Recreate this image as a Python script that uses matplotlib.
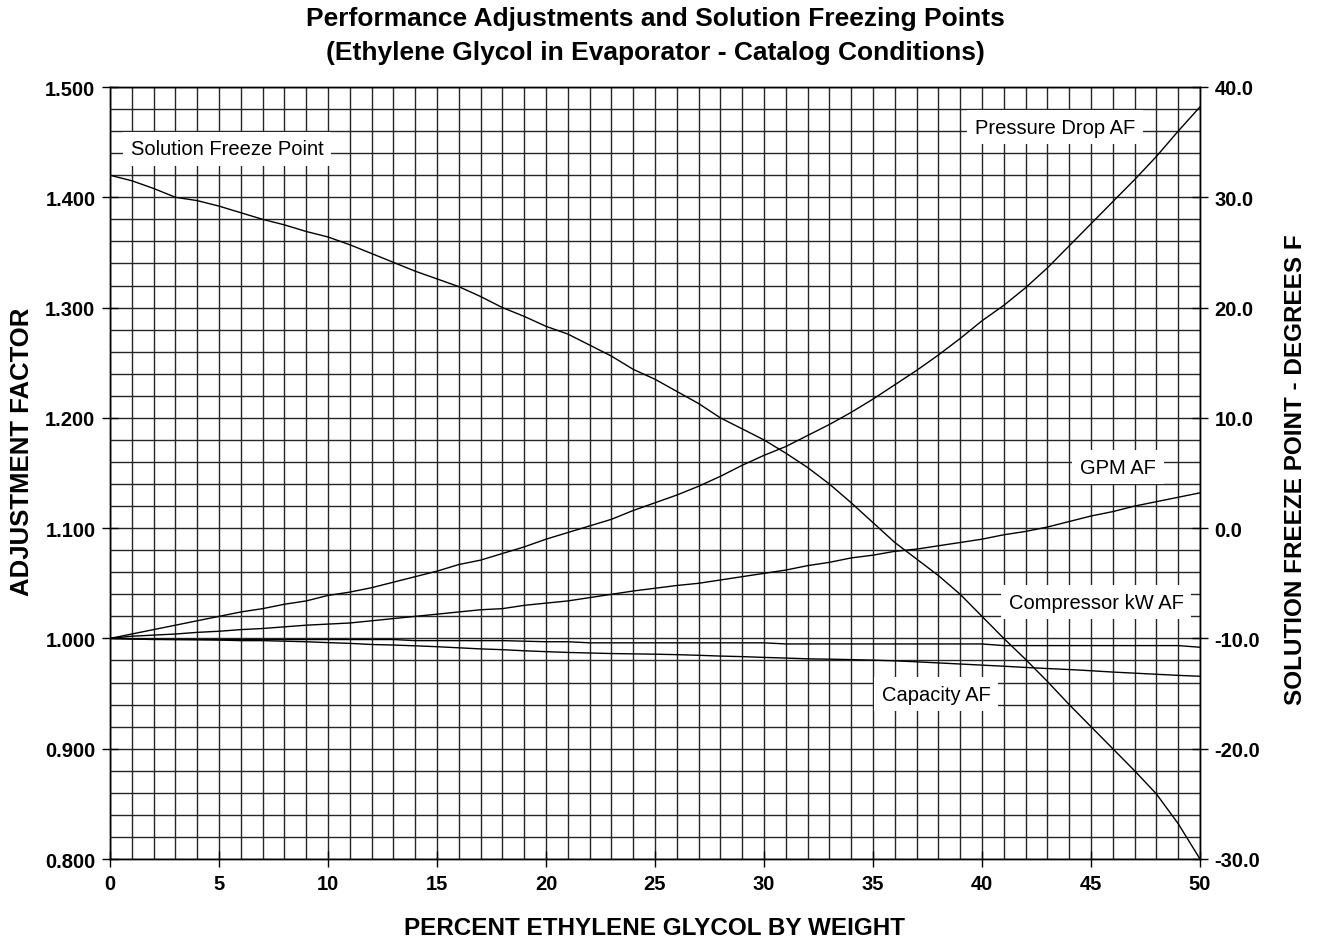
import matplotlib.pyplot as plt
from matplotlib.ticker import MultipleLocator

plt.rcParams["font.family"] = ["Liberation Sans", "DejaVu Sans"]
plt.rcParams["axes.unicode_minus"] = False

# percent ethylene glycol by weight
pct_glycol = list(range(0, 51))

pressure_drop_af = [
    1.000, 1.004, 1.008, 1.012, 1.016, 1.020, 1.024, 1.027, 1.031, 1.034,
    1.039, 1.042, 1.046, 1.051, 1.056, 1.061, 1.067, 1.071, 1.077, 1.083,
    1.090, 1.096, 1.102, 1.108, 1.116, 1.123, 1.130, 1.138, 1.147, 1.157,
    1.166, 1.174, 1.184, 1.194, 1.205, 1.217, 1.230, 1.243, 1.257, 1.272,
    1.288, 1.302, 1.318, 1.336, 1.356, 1.376, 1.396, 1.416, 1.437, 1.460,
    1.482,
]

gpm_af = [
    1.000, 1.002, 1.003, 1.004, 1.0055, 1.0065, 1.008, 1.009, 1.0105, 1.012,
    1.013, 1.014, 1.016, 1.018, 1.020, 1.022, 1.024, 1.026, 1.027, 1.030,
    1.032, 1.034, 1.037, 1.040, 1.043, 1.0455, 1.048, 1.050, 1.053, 1.056,
    1.059, 1.062, 1.066, 1.069, 1.073, 1.0755, 1.079, 1.081, 1.084, 1.087,
    1.090, 1.094, 1.097, 1.101, 1.106, 1.111, 1.115, 1.120, 1.124, 1.128,
    1.132,
]

compressor_kw_af = [
    1.000, 0.9995, 0.999, 0.999, 0.999, 0.999, 0.999, 0.999, 0.999, 0.999,
    0.999, 0.999, 0.999, 0.999, 0.998, 0.998, 0.998, 0.998, 0.998, 0.9975,
    0.997, 0.997, 0.996, 0.996, 0.996, 0.996, 0.996, 0.996, 0.996, 0.996,
    0.996, 0.995, 0.995, 0.995, 0.995, 0.995, 0.995, 0.995, 0.995, 0.995,
    0.995, 0.9935, 0.9935, 0.9935, 0.9935, 0.9935, 0.9935, 0.9935, 0.9935, 0.9935,
    0.992,
]

capacity_af = [
    1.000, 0.9995, 0.9993, 0.999, 0.9988, 0.9985, 0.998, 0.998, 0.9975, 0.997,
    0.9962, 0.9955, 0.9945, 0.994, 0.9933, 0.9925, 0.9915, 0.9905, 0.9898, 0.9888,
    0.988, 0.9873, 0.9868, 0.9863, 0.986, 0.9857, 0.9853, 0.9847, 0.984, 0.9835,
    0.9828, 0.9822, 0.9815, 0.9812, 0.9808, 0.9803, 0.9797, 0.9788, 0.9778, 0.9768,
    0.9758, 0.9748, 0.9737, 0.9727, 0.9718, 0.9707, 0.9695, 0.9685, 0.9675, 0.9665,
    0.9657,
]

# solution freeze point, degrees F (right axis)
freeze_point_f = [
    32.0, 31.5, 30.8, 30.0, 29.7, 29.2, 28.6, 28.0, 27.5, 26.9,
    26.4, 25.7, 24.9, 24.1, 23.3, 22.6, 21.9, 21.0, 20.0, 19.2,
    18.3, 17.6, 16.6, 15.6, 14.4, 13.5, 12.4, 11.3, 10.0, 9.0,
    8.0, 6.8, 5.5, 4.0, 2.3, 0.5, -1.3, -2.8, -4.3, -6.0,
    -8.0, -10.0, -11.9, -13.9, -16.0, -18.0, -20.0, -22.0, -24.1, -26.8,
    -30.0,
]

x_ticks = [0, 5, 10, 15, 20, 25, 30, 35, 40, 45, 50]
af_ticks = [0.8, 0.9, 1.0, 1.1, 1.2, 1.3, 1.4, 1.5]
f_ticks = [-30, -20, -10, 0, 10, 20, 30, 40]

# curve labels: text, x, adjustment factor
curve_labels = [
    ("Solution Freeze Point", 5.37, 1.4440),
    ("Pressure Drop AF", 43.35, 1.4637),
    ("GPM AF", 46.24, 1.1554),
    ("Compressor kW AF", 45.23, 1.0330),
    ("Capacity AF", 37.89, 0.9496),
]

fig = plt.figure(figsize=(13.18, 9.45), dpi=100)
ax = fig.add_axes([110 / 1318, 1 - 860 / 945, 1090 / 1318, 772 / 945])
ax2 = ax.twinx()

ax.set_xlim(0, 50)
ax.set_ylim(0.8, 1.5)
ax2.set_ylim(-30, 40)

# fine grid: every 1 % and every 0.02 AF
ax.xaxis.set_minor_locator(MultipleLocator(1))
ax.yaxis.set_minor_locator(MultipleLocator(0.02))
ax.grid(which="both", color="#262626", linewidth=1.0)
ax.set_axisbelow(True)

ax.set_xticks(x_ticks, labels=[str(v) for v in x_ticks], fontweight="bold")
ax.set_yticks(af_ticks, labels=[f"{v:.3f}" for v in af_ticks], fontweight="bold")
ax2.set_yticks(f_ticks, labels=[f"{v:.1f}" for v in f_ticks], fontweight="bold")

for a in (ax, ax2):
    a.tick_params(which="major", direction="inout", length=11, width=1.0,
                  labelsize=14.5, pad=5, colors="black")
    a.tick_params(which="minor", length=0)
    for sp in a.spines.values():
        sp.set_color("black")
        sp.set_linewidth(1.0)

line_kw = dict(color="black", linewidth=1.0, zorder=3)
ax.plot(pct_glycol, pressure_drop_af, **line_kw)
ax.plot(pct_glycol, gpm_af, **line_kw)
ax.plot(pct_glycol, compressor_kw_af, **line_kw)
ax.plot(pct_glycol, capacity_af, **line_kw)
ax2.plot(pct_glycol, freeze_point_f, **line_kw)

for text, x, y in curve_labels:
    ax.text(x, y, text, ha="center", va="center", fontsize=14.5, zorder=6,
            bbox=dict(facecolor="white", edgecolor="none", boxstyle="square,pad=0.38"))

fig.text(0.4973, 0.9615,
         "Performance Adjustments and Solution Freezing Points\n"
         "(Ethylene Glycol in Evaporator - Catalog Conditions)",
         ha="center", va="center", fontsize=19, fontweight="bold", linespacing=1.52)

fig.text(22 / 1318, 1 - 452 / 945, "ADJUSTMENT FACTOR", rotation=90,
         ha="center", va="center", fontsize=18.5, fontweight="bold")
fig.text(1295 / 1318, 1 - 470 / 945, "SOLUTION FREEZE POINT - DEGREES F", rotation=90,
         ha="center", va="center", fontsize=17.5, fontweight="bold")
fig.text(655 / 1318, 1 - 929 / 945, "PERCENT ETHYLENE GLYCOL BY WEIGHT",
         ha="center", va="center", fontsize=17.5, fontweight="bold")

fig.savefig("out.png", dpi=100, facecolor="white")
